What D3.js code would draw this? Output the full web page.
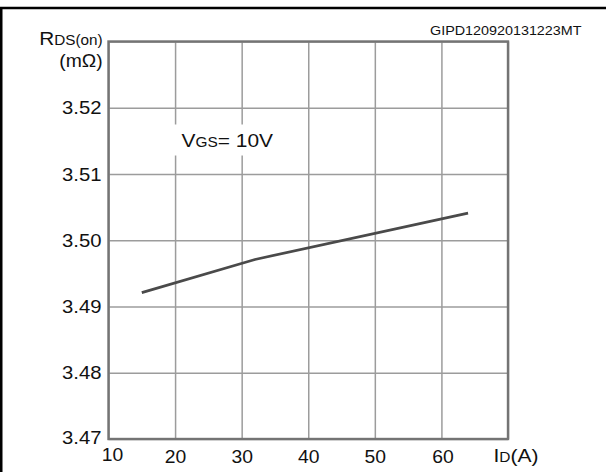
<!DOCTYPE html>
<html>
<head>
<meta charset="utf-8">
<script src="https://cdn.jsdelivr.net/npm/d3@7"></script>
<style>
  html, body { margin: 0; padding: 0; background: #fff; overflow: hidden; }
  svg { display: block; overflow: hidden; }
  text { font-family: "Liberation Sans", Arial, sans-serif; fill: #111; }
</style>
</head>
<body>
<svg id="chart" width="606" height="472"></svg>
<script>
// On-resistance vs drain current, VGS = 10 V
const drainCurrent = [15, 32, 64];            // ID (A)
const rdsOn = [3.4921, 3.4971, 3.5041];       // RDS(on) (mΩ)
const xTickValues = [10, 20, 30, 40, 50, 60, 70];
const xTickLabels = ["10", "20", "30", "40", "50", "60", ""];
const yTickValues = [3.47, 3.48, 3.49, 3.50, 3.51, 3.52, 3.53];
const yTickLabels = ["3.47", "3.48", "3.49", "3.50", "3.51", "3.52", ""];
const docCode = "GIPD120920131223MT";

const svg = d3.select("#chart");
const plot = { left: 108.5, top: 41.5, right: 508, bottom: 439 };

const x = d3.scaleLinear().domain([10, 70]).range([plot.left, plot.right]);
const y = d3.scaleLinear().domain([3.47, 3.53]).range([plot.bottom, plot.top]);

// outer frame of the figure: top and left edges
svg.append("path")
  .attr("d", "M1.2,480V8H606")
  .attr("fill", "none").attr("stroke", "#000").attr("stroke-width", 2.6);

// grid
const grid = svg.append("g");
grid.append("g")
  .attr("transform", `translate(0,${plot.bottom})`)
  .call(d3.axisBottom(x).tickValues(xTickValues).tickSize(-(plot.bottom - plot.top)).tickFormat(""))
  .call(g => g.select(".domain").remove())
  .call(g => g.selectAll("line").attr("stroke", "#9c9c9c").attr("stroke-width", 1.5));
grid.append("g")
  .attr("transform", `translate(${plot.left},0)`)
  .call(d3.axisLeft(y).tickValues(yTickValues).tickSize(-(plot.right - plot.left)).tickFormat(""))
  .call(g => g.select(".domain").remove())
  .call(g => g.selectAll("line").attr("stroke", "#9c9c9c").attr("stroke-width", 1.5));

// plot border
svg.append("rect")
  .attr("x", plot.left).attr("y", plot.top)
  .attr("width", plot.right - plot.left).attr("height", plot.bottom - plot.top)
  .attr("fill", "none").attr("stroke", "#747474").attr("stroke-width", 2.4);

// curve
const line = d3.line().x((d, i) => x(drainCurrent[i])).y(d => y(d));
svg.append("path")
  .datum(rdsOn)
  .attr("d", line)
  .attr("fill", "none")
  .attr("stroke", "#4a4a4a")
  .attr("stroke-width", 2.7)
  .attr("stroke-linecap", "butt");

// condition label with white backing
svg.append("rect")
  .attr("x", 172).attr("y", 124.5).attr("width", 116).attr("height", 31)
  .attr("fill", "#fff");
const vgs = svg.append("text")
  .attr("x", 181.5).attr("y", 146.5)
  .attr("textLength", 91.5).attr("lengthAdjust", "spacingAndGlyphs");
vgs.append("tspan").attr("font-size", 19).text("V");
vgs.append("tspan").attr("font-size", 14).text("GS");
vgs.append("tspan").attr("font-size", 19).text("= 10V");

// y tick labels
svg.append("g").selectAll("text")
  .data(yTickValues.map((v, i) => ({ v, label: yTickLabels[i] })).filter(d => d.label))
  .join("text")
  .attr("x", 101.5)
  .attr("y", d => d.v === 3.47 ? y(d.v) + 4.5 : y(d.v) + 6.6)
  .attr("text-anchor", "end")
  .attr("font-size", 18.5)
  .attr("textLength", 39.5).attr("lengthAdjust", "spacingAndGlyphs")
  .text(d => d.label);

// x tick labels
svg.append("g").selectAll("text")
  .data(xTickValues.map((v, i) => ({ v, label: xTickLabels[i] })).filter(d => d.label))
  .join("text")
  .attr("x", d => x(d.v) + (d.v === 10 ? 4 : d.v === 60 ? 1.5 : 0.5))
  .attr("y", d => d.v === 10 ? 460.5 : 462.5)
  .attr("text-anchor", "middle")
  .attr("font-size", 19)
  .attr("textLength", 21.5).attr("lengthAdjust", "spacingAndGlyphs")
  .text(d => d.label);

// axis titles
const yTitle = svg.append("text")
  .attr("x", 102.7).attr("y", 45).attr("text-anchor", "end")
  .attr("textLength", 63.5).attr("lengthAdjust", "spacingAndGlyphs");
yTitle.append("tspan").attr("font-size", 19).text("R");
yTitle.append("tspan").attr("font-size", 14).text("DS(on)");

svg.append("text")
  .attr("x", 102.7).attr("y", 66.7).attr("text-anchor", "end")
  .attr("font-size", 18)
  .attr("textLength", 43.4).attr("lengthAdjust", "spacingAndGlyphs")
  .text("(mΩ)");

const xTitle = svg.append("text")
  .attr("x", 493.5).attr("y", 461.7)
  .attr("textLength", 45).attr("lengthAdjust", "spacingAndGlyphs");
xTitle.append("tspan").attr("font-size", 19).text("I");
xTitle.append("tspan").attr("font-size", 14).text("D");
xTitle.append("tspan").attr("font-size", 19).text("(A)");

// document code
svg.append("text")
  .attr("x", 430).attr("y", 35)
  .attr("font-family", "'Open Sans', 'DejaVu Sans', sans-serif")
  .attr("font-size", 13.5)
  .attr("fill", "#222")
  .attr("textLength", 151.5).attr("lengthAdjust", "spacingAndGlyphs")
  .text(docCode);
</script>
</body>
</html>
